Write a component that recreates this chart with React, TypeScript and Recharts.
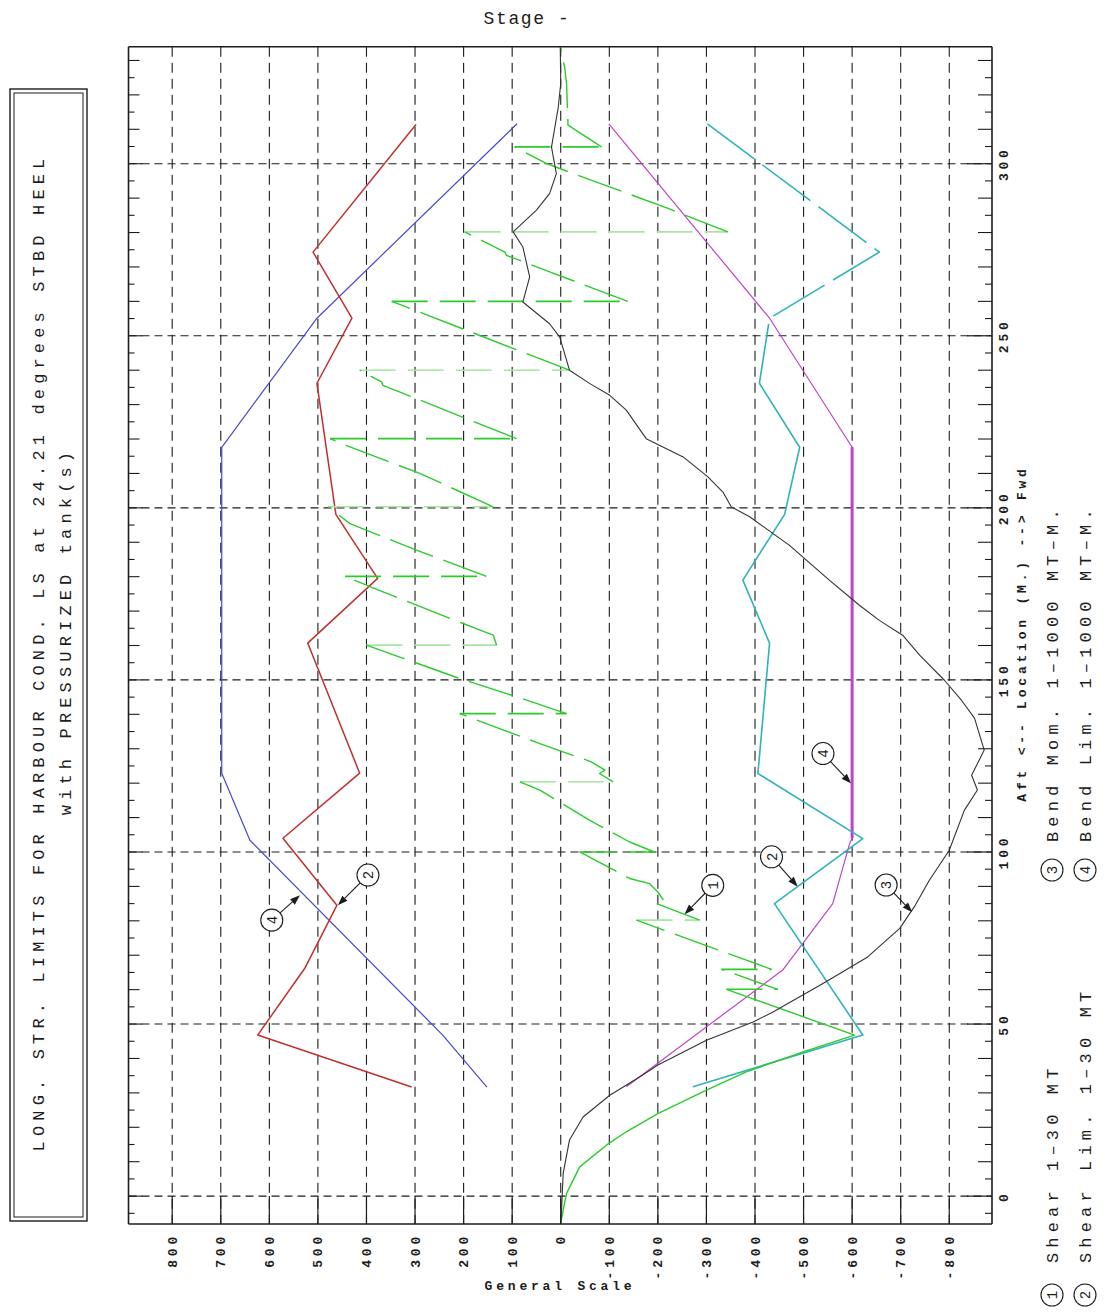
import React from 'react';
import { ScatterChart, Scatter, XAxis, YAxis, CartesianGrid, ReferenceLine } from 'recharts';

// ---------- data (each point: [location in m, general-scale value]) ----------
type Pt = [number, number];

const generalTicks = [-800, -700, -600, -500, -400, -300, -200, -100, 0, 100, 200, 300, 400, 500, 600, 700, 800];
const locationTicks = [0, 50, 100, 150, 200, 250, 300];
const generalDomain: [number, number] = [-888, 890];
const locationDomain: [number, number] = [-8.1, 334];

// (1) Shear force – sloped pieces; the steps between consecutive pieces are drawn as jumps
const shearForce: Pt[][] = [
  [[-8, 0], [-4.1, -5], [0.8, -12], [8.5, -39], [14.8, -94], [18.7, -135], [24, -200], [30.8, -300], [36.1, -382], [41.9, -499], [46.8, -605], [60.1, -341]],
  [[60.1, -447], [65.9, -331]],
  [[65.9, -434], [80.2, -156]],
  [[80.2, -286], [85, -197], [85.5, -214], [88.4, -200], [90.8, -183], [92.3, -142], [100, -39]],
  [[100, -193], [102.9, -142], [109.2, -60], [118, 43], [120.4, 84]],
  [[120.4, -108], [122.8, -80], [123.8, -91], [126.2, -63], [131.5, 43], [140.2, 208]],
  [[140.2, -12], [145.1, 91], [150.4, 208], [160.1, 400]],
  [[160.1, 132], [163, 139], [164.9, 174], [166.4, 201], [175.6, 366], [180.1, 444]],
  [[180.1, 153], [187.7, 297], [195.4, 434], [200.3, 479]],
  [[200.3, 139], [210, 290], [217.7, 434], [220.1, 475]],
  [[220.1, 91], [235.6, 366], [236.6, 369], [240, 414]],
  [[240, -18], [260, 348]],
  [[260, -138], [268.2, 16], [273.4, 112], [274.3, 115], [280.2, 198]],
  [[280.2, -344], [287, -221], [298.6, 2], [300, 29], [304.9, 95]],
  [[304.9, -84], [311.2, -15], [323.3, -12], [328.1, -8], [332.4, -1], [334, 0]],
];
const shearJumpLight = [false, false, true, false, true, false, true, false, true, false, true, false, true, false];

// (2) Shear limits
const shearLimitPos: Pt[] = [[31.7, 307], [46.8, 624], [66.2, 527], [84.5, 461], [104, 572], [122.9, 414], [160.7, 521], [179.5, 377], [198.1, 463], [236.2, 502], [255.1, 430], [274.3, 510], [311.4, 298]];
const shearLimitNegLow: Pt[] = [[31.8, -272], [46.8, -622], [85, -440], [103.9, -622], [122.8, -406], [160.7, -430], [179, -375], [198.1, -461], [217.6, -492], [236.2, -409]];
const shearLimitNegHigh: Pt[] = [[236.2, -409], [255.1, -430], [274.3, -656], [311.6, -302]];

// (3) Bending moment
const bendingMoment: Pt[] = [[-8.1, 0], [-3.1, -2], [6.6, -5], [16.3, -18], [23, -46], [29.3, -101], [34.7, -163], [38.1, -200], [45.3, -300], [50.6, -396], [53.5, -437], [61.8, -540], [69.5, -632], [77.8, -698], [84.5, -730], [91.8, -759], [100.5, -800], [112.1, -831], [118, -858], [122.3, -846], [129.6, -872], [138.9, -852], [144.1, -825], [149.9, -790], [157.2, -739], [163, -704], [167.3, -656], [171.7, -615], [179, -553], [189.1, -471], [197.4, -389], [200.3, -351], [204.6, -334], [209, -303], [214.8, -252], [220.1, -176], [228.4, -135], [232.7, -101], [236.1, -60], [240, -18], [249.6, 2], [253.5, 23], [259.8, 78], [267.1, 64], [275.8, 78], [280.2, 98], [286.5, 50], [291.3, 23], [297.1, 9], [304.8, 19], [316.5, 5], [323.3, 0], [334, 1]];

// (4) Bending limits
const bendLimitPos: Pt[] = [[31.7, 152], [46.8, 243], [103.4, 640], [122.9, 698], [217.6, 698], [255.1, 502], [311.6, 90]];
const bendLimitNeg: Pt[] = [[31.8, -135], [65.7, -457], [85, -560], [102.5, -595], [104, -600], [217.6, -600], [255.1, -430], [311.6, -99]];
const bendLimitNegFlat: Pt[] = [[104, -600], [217.6, -600]];

// call-outs: circle centre and arrow tip
const callouts: { label: string; at: Pt; tip: Pt }[] = [
  { label: '1', at: [90.3, -313], tip: [81.9, -255] },
  { label: '2', at: [93.3, 397], tip: [84.5, 459] },
  { label: '2', at: [98.6, -434], tip: [89.9, -488] },
  { label: '3', at: [90.4, -670], tip: [82.5, -724] },
  { label: '4', at: [80.2, 595], tip: [87.4, 537] },
  { label: '4', at: [128.6, -540], tip: [119.9, -598] },
];

const legendItems = [
  { n: '1', text: 'Shear 1\u201330 MT', col: 0, row: 0 },
  { n: '2', text: 'Shear Lim. 1\u201330 MT', col: 1, row: 0 },
  { n: '3', text: 'Bend Mom. 1\u20131000 MT\u2013M.', col: 0, row: 1 },
  { n: '4', text: 'Bend Lim. 1\u20131000 MT\u2013M.', col: 1, row: 1 },
];

const steps = (from: number, to: number, step: number) => {
  const out: number[] = [];
  for (let v = from; v <= to + 1e-9; v += step) out.push(Math.round(v * 10) / 10);
  return out;
};
const bottomMinor = steps(-880, 880, 10).filter((v) => v % 100 !== 0);
const topMinor = steps(-880, 880, 10);
const rightMinor = steps(-5, 330, 5).filter((v) => v % 50 !== 0);
const leftMinor = steps(-5, 330, 5);

// ---------- styling ----------
const FONT = '"Liberation Mono", "DejaVu Sans Mono", monospace';
const INK = '#1c1c1c';
const W = 1089;
const H = 1300;
const MARGIN = { top: 37.7, right: 103, bottom: 82, left: 119.5 };

const C_GREEN = '#2bcb2b';
const C_GREEN_LIGHT = '#a9e6a3';
const C_RED = '#c0302c';
const C_CYAN = '#2fb3ba';
const C_BLUE = '#4848cc';
const C_MAG = '#bf44c9';
const C_BLACK = '#333333';

const toPts = (arr: Pt[]) => arr.map(([L, v]) => ({ L, v }));
const noShape = () => <g />;

const series = (key: string, data: Pt[], color: string, width = 1.3, dash?: string) => (
  <Scatter
    key={key}
    data={toPts(data)}
    fill={color}
    line={{ stroke: color, strokeWidth: width, strokeDasharray: dash, strokeLinejoin: 'round' }}
    lineType="joint"
    shape={noShape}
    isAnimationActive={false}
  />
);

const tickFont = { fontFamily: FONT, fontSize: 13, fontWeight: 700, fill: INK, letterSpacing: 3.8 } as const;

const bottomMajorTick = (p: any) => {
  const { x, y, payload } = p;
  return (
    <g>
      <line x1={x} x2={x} y1={y} y2={y - 28} stroke={INK} strokeWidth={1.2} />
      <text x={x} y={y + 9} transform={`rotate(-90 ${x} ${y + 9})`} textAnchor="end" dy="0.35em" style={tickFont}>
        {payload.value}
      </text>
    </g>
  );
};
const bottomMinorTick = (p: any) => {
  const { x, y, payload } = p;
  const len = payload.value % 50 === 0 ? 11 : 4;
  return <line x1={x} x2={x} y1={y - 1} y2={y - 1 - len} stroke={INK} strokeWidth={1.1} />;
};
const topTick = (p: any) => {
  const { x, y, payload } = p;
  const v = payload.value;
  const len = v % 100 === 0 ? 12 : v % 50 === 0 ? 9 : 5;
  return <line x1={x} x2={x} y1={y} y2={y + len} stroke={INK} strokeWidth={1.1} />;
};
const rightMajorTick = (p: any) => {
  const { x, y, payload } = p;
  return (
    <g>
      <line x1={x} x2={x - 25} y1={y} y2={y} stroke={INK} strokeWidth={1.2} />
      <text x={x + 11} y={y} transform={`rotate(-90 ${x + 11} ${y})`} textAnchor="middle" dy="0.35em" style={tickFont}>
        {payload.value}
      </text>
    </g>
  );
};
const rightMinorTick = (p: any) => {
  const { x, y, payload } = p;
  const len = payload.value % 10 === 0 ? 14 : 7;
  return <line x1={x - 1} x2={x - 1 - len} y1={y} y2={y} stroke={INK} strokeWidth={1.1} />;
};
const leftTick = (p: any) => {
  const { x, y, payload } = p;
  const v = payload.value;
  const len = v % 50 === 0 ? 14 : v % 10 === 0 ? 11 : 6;
  return <line x1={x} x2={x + len} y1={y} y2={y} stroke={INK} strokeWidth={1.1} />;
};

const calloutShape = (label: string) => (p: any) => {
  const { x1, y1, x2, y2 } = p;
  const dx = x2 - x1;
  const dy = y2 - y1;
  const len = Math.hypot(dx, dy) || 1;
  const ux = dx / len;
  const uy = dy / len;
  const r = 11;
  const sx = x1 + ux * r;
  const sy = y1 + uy * r;
  const ah = 10;
  const aw = 3.6;
  const bx = x2 - ux * ah;
  const by = y2 - uy * ah;
  const px = -uy;
  const py = ux;
  return (
    <g>
      <circle cx={x1} cy={y1} r={r} fill="#ffffff" stroke={INK} strokeWidth={1.1} />
      <text x={x1} y={y1} transform={`rotate(-90 ${x1} ${y1})`} textAnchor="middle" dy="0.36em" style={{ fontFamily: FONT, fontSize: 14, fill: INK }}>
        {label}
      </text>
      <line x1={sx} y1={sy} x2={bx} y2={by} stroke={INK} strokeWidth={1.1} />
      <polygon points={`${x2},${y2} ${bx + px * aw},${by + py * aw} ${bx - px * aw},${by - py * aw}`} fill={INK} />
    </g>
  );
};

const bigFont = { fontFamily: FONT, fontSize: 17, fill: INK, letterSpacing: 5.15 } as const;

export default function App() {
  const shearSloped = shearForce.map((seg, i) => series(`sf${i}`, seg, C_GREEN, 1.4, i === 0 ? undefined : '46 11'));
  const shearJumps = shearForce.slice(0, -1).map((seg, i) => {
    const a = seg[seg.length - 1];
    const b = shearForce[i + 1][0];
    const light = shearJumpLight[i];
    return series(`sj${i}`, [a, b], light ? C_GREEN_LIGHT : C_GREEN, 1.6, '36 12');
  });

  return (
    <div style={{ position: 'relative', width: W, height: H }}>
      <ScatterChart width={W} height={H} margin={MARGIN}>
        <CartesianGrid horizontal={false} syncWithTicks stroke={INK} strokeDasharray="10 6" strokeWidth={1.1} />
        <CartesianGrid vertical={false} syncWithTicks stroke={INK} strokeDasharray="8 5" strokeWidth={1.1} />

        <XAxis xAxisId={0} dataKey="v" type="number" orientation="bottom" domain={generalDomain} reversed allowDataOverflow
          ticks={generalTicks} interval={0} height={1} tickSize={0} tickMargin={0} tickLine={false}
          axisLine={{ stroke: INK, strokeWidth: 1.6 }} tick={bottomMajorTick} />
        <XAxis xAxisId="bminor" type="number" orientation="bottom" domain={generalDomain} reversed allowDataOverflow
          ticks={bottomMinor} interval={0} height={1} tickSize={0} tickMargin={0} tickLine={false}
          axisLine={false} tick={bottomMinorTick} />
        <XAxis xAxisId="top" type="number" orientation="top" domain={generalDomain} reversed allowDataOverflow
          ticks={topMinor} interval={0} height={1} tickSize={0} tickMargin={0} tickLine={false}
          axisLine={{ stroke: INK, strokeWidth: 1.6 }} tick={topTick} />

        <YAxis yAxisId={0} dataKey="L" type="number" orientation="right" domain={locationDomain} allowDataOverflow
          ticks={locationTicks} interval={0} width={1} tickSize={0} tickMargin={0} tickLine={false}
          axisLine={{ stroke: INK, strokeWidth: 1.6 }} tick={rightMajorTick} />
        <YAxis yAxisId="rminor" type="number" orientation="right" domain={locationDomain} allowDataOverflow
          ticks={rightMinor} interval={0} width={1} tickSize={0} tickMargin={0} tickLine={false}
          axisLine={false} tick={rightMinorTick} />
        <YAxis yAxisId="left" type="number" orientation="left" domain={locationDomain} allowDataOverflow
          ticks={leftMinor} interval={0} width={1} tickSize={0} tickMargin={0} tickLine={false}
          axisLine={{ stroke: INK, strokeWidth: 1.6 }} tick={leftTick} />

        {series('bmPos', bendLimitPos, C_BLUE, 1.2)}
        {series('bmNeg', bendLimitNeg, C_MAG, 1.2)}
        {series('bmNegFlat', bendLimitNegFlat, C_MAG, 3)}
        {series('slPos', shearLimitPos, C_RED, 1.5)}
        {series('slNegA', shearLimitNegLow, C_CYAN, 1.6)}
        {series('slNegB', shearLimitNegHigh, C_CYAN, 1.6, '60 10')}
        {shearJumps}
        {shearSloped}
        {series('bm', bendingMoment, C_BLACK, 1.1)}

        {callouts.map((c, i) => (
          <ReferenceLine
            key={`co${i}`}
            segment={[{ x: c.at[1], y: c.at[0] }, { x: c.tip[1], y: c.tip[0] }]}
            ifOverflow="visible"
            shape={calloutShape(c.label)}
          />
        ))}
      </ScatterChart>

      <svg width={W} height={H} style={{ position: 'absolute', left: 0, top: 0, pointerEvents: 'none' }}>
        <rect x={2} y={81} width={77} height={1132} fill="none" stroke={INK} strokeWidth={1.4} />
        <rect x={6} y={85} width={69} height={1124} fill="none" stroke={INK} strokeWidth={1} />
        <text transform="translate(30 644.5) rotate(-90)" textAnchor="middle" dy="0.35em" style={bigFont}>
          LONG. STR. LIMITS FOR HARBOUR COND. LS at 24.21 degrees STBD HEEL
        </text>
        <text transform="translate(57 623) rotate(-90)" textAnchor="middle" dy="0.35em" style={bigFont}>
          with PRESSURIZED tank(s)
        </text>

        <text x={519} y={15.5} textAnchor="middle" style={{ fontFamily: FONT, fontSize: 18, fill: INK, letterSpacing: 1.6 }}>
          Stage -
        </text>
        <text x={552} y={1282} textAnchor="middle" style={tickFont}>
          General Scale
        </text>
        <text transform="translate(1013 625.5) rotate(-90)" textAnchor="middle" dy="0.35em" style={tickFont}>
          {'Aft <-- Location (M.) --> Fwd'}
        </text>

        {legendItems.map((it) => {
          const cx = it.col === 0 ? 1044 : 1077;
          const cy = it.row === 0 ? 1287 : 862;
          const ty = it.row === 0 ? 1255 : 834;
          return (
            <g key={it.n}>
              <circle cx={cx} cy={cy} r={11} fill="#fff" stroke={INK} strokeWidth={1.1} />
              <text transform={`translate(${cx} ${cy}) rotate(-90)`} textAnchor="middle" dy="0.36em" style={{ fontFamily: FONT, fontSize: 14, fill: INK }}>
                {it.n}
              </text>
              <text transform={`translate(${cx} ${ty}) rotate(-90)`} textAnchor="start" dy="0.35em" style={bigFont}>
                {it.text}
              </text>
            </g>
          );
        })}
      </svg>
    </div>
  );
}
